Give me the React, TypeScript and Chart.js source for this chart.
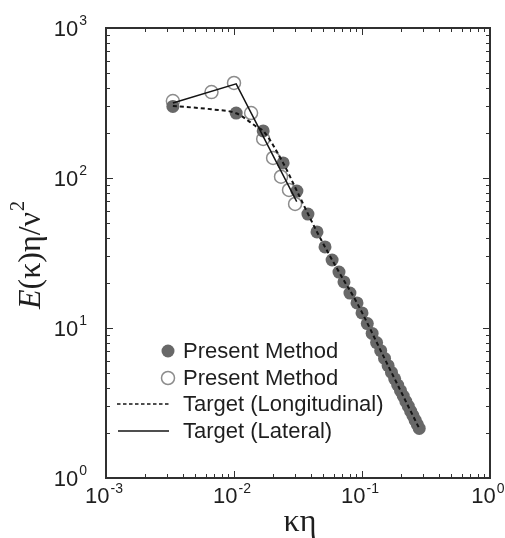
import React, { useEffect, useRef } from "react";
import { Chart, registerables } from "chart.js";

Chart.register(...registerables);

// Present Method (longitudinal, filled circles)
const filledK = [0.00333, 0.0104, 0.0169, 0.0242, 0.031, 0.0378, 0.0445, 0.0514, 0.0584, 0.0661, 0.0723, 0.0805, 0.0914,
  0.1, 0.11, 0.12, 0.13, 0.14, 0.15, 0.16, 0.17, 0.18, 0.19, 0.2, 0.21, 0.22, 0.23, 0.24, 0.25, 0.26, 0.27, 0.28];
const filledE = [300, 271, 206, 126, 81.9, 57.5, 43.7, 34.7, 28.4, 23.6, 20.3, 17.1, 14.7,
  12.6, 10.7, 9.2, 8.0, 7.06, 6.27, 5.61, 5.06, 4.58, 4.17, 3.82, 3.52, 3.24, 3.01, 2.79, 2.61, 2.43, 2.28, 2.14];

// Present Method (lateral, open circles)
const openK = [0.00333, 0.00667, 0.01, 0.0136, 0.0169, 0.0202, 0.0233, 0.0269, 0.03];
const openE = [326, 374, 430, 271, 182, 136, 102, 83.2, 67.1];

// Target (Longitudinal), dashed
const longK = [0.00333, 0.00667, 0.0104, 0.0151, 0.0169, 0.0242, 0.031, 0.0445, 0.0661, 0.0914, 0.15, 0.28];
const longE = [302, 287, 270, 219, 206, 126, 81.9, 43.7, 23.6, 14.7, 6.27, 2.14];

// Target (Lateral), solid
const latK = [0.00333, 0.0104, 0.0309];
const latE = [316, 424, 69.5];

const xDecades = [-3, -2, -1, 0];
const yDecades = [0, 1, 2, 3];
const legendLabels = ["Present Method", "Present Method", "Target (Longitudinal)", "Target (Lateral)"];

const FILL_COLOR = "#686868";
const OPEN_COLOR = "#8c8c8c";
const LINE_COLOR = "#141414";
const FRAME_COLOR = "#303030";
const TEXT_COLOR = "#1e1e1e";

const pts = (xs: number[], ys: number[]) => xs.map((x, i) => ({ x, y: ys[i] }));

const decorPlugin = {
  id: "decor",
  afterDraw(chart: any) {
    const { ctx, chartArea } = chart;
    const { left, right, top, bottom } = chartArea;
    const xs = chart.scales.x;
    const ys = chart.scales.y;
    ctx.save();
    // ticks (inward, all four sides)
    ctx.strokeStyle = FRAME_COLOR;
    ctx.lineWidth = 1;
    const major = 7;
    const minor = 4;
    for (let d = -3; d < 0; d++) {
      for (let m = 1; m <= 9; m++) {
        const v = m * Math.pow(10, d);
        const px = Math.round(xs.getPixelForValue(v)) + 0.5;
        const len = m === 1 ? major : minor;
        ctx.beginPath();
        ctx.moveTo(px, bottom);
        ctx.lineTo(px, bottom - len);
        ctx.moveTo(px, top);
        ctx.lineTo(px, top + len);
        ctx.stroke();
      }
    }
    for (let d = 0; d < 3; d++) {
      for (let m = 1; m <= 9; m++) {
        const v = m * Math.pow(10, d);
        const py = Math.round(ys.getPixelForValue(v)) + 0.5;
        const len = m === 1 ? major : minor;
        ctx.beginPath();
        ctx.moveTo(left, py);
        ctx.lineTo(left + len, py);
        ctx.moveTo(right, py);
        ctx.lineTo(right - len, py);
        ctx.stroke();
      }
    }
    // frame
    ctx.lineWidth = 2;
    ctx.strokeStyle = FRAME_COLOR;
    ctx.strokeRect(left, top, right - left, bottom - top);

    // tick labels
    ctx.fillStyle = TEXT_COLOR;
    ctx.textBaseline = "alphabetic";
    const baseFont = "22px 'Liberation Sans', Arial, sans-serif";
    const expFont = "14px 'Liberation Sans', Arial, sans-serif";
    yDecades.forEach((d) => {
      const py = ys.getPixelForValue(Math.pow(10, d));
      ctx.font = expFont;
      const ew = ctx.measureText(String(d)).width;
      ctx.font = baseFont;
      const bw = ctx.measureText("10").width;
      const rightEdge = 87;
      const bx = rightEdge - ew - 1 - bw;
      ctx.textAlign = "left";
      ctx.fillText("10", bx, py + 8);
      ctx.font = expFont;
      ctx.fillText(String(d), bx + bw + 1, py - 3);
    });
    xDecades.forEach((d) => {
      const px = xs.getPixelForValue(Math.pow(10, d));
      const es = String(d);
      ctx.font = expFont;
      const ew = ctx.measureText(es).width;
      ctx.font = baseFont;
      const bw = ctx.measureText("10").width;
      const total = bw + 1 + ew;
      const bx = px - 2 - total / 2;
      ctx.textAlign = "left";
      ctx.fillText("10", bx, 503);
      ctx.font = expFont;
      ctx.fillText(es, bx + bw + 1, 493);
    });

    // x title
    ctx.font = "32px 'Liberation Serif', 'Times New Roman', serif";
    ctx.textAlign = "center";
    ctx.fillText("κη", 300, 531);

    // y title (rotated)
    ctx.save();
    ctx.translate(40, 255);
    ctx.rotate(-Math.PI / 2);
    const italic = "italic 32px 'Liberation Serif', 'Times New Roman', serif";
    const normal = "32px 'Liberation Serif', 'Times New Roman', serif";
    const sup = "20px 'Liberation Serif', 'Times New Roman', serif";
    ctx.font = italic;
    const w1 = ctx.measureText("E").width;
    ctx.font = normal;
    const w2 = ctx.measureText("(κ)η/ν").width;
    ctx.font = sup;
    const w3 = ctx.measureText("2").width;
    let x0 = -(w1 + w2 + w3 + 1) / 2;
    ctx.textAlign = "left";
    ctx.font = italic;
    ctx.fillText("E", x0, 0);
    x0 += w1;
    ctx.font = normal;
    ctx.fillText("(κ)η/ν", x0, 0);
    x0 += w2 + 1;
    ctx.font = sup;
    ctx.fillText("2", x0, -16);
    ctx.restore();

    // legend
    const rows = [351, 378, 404, 431];
    const textX = 183;
    ctx.font = "22px 'Liberation Sans', Arial, sans-serif";
    ctx.textAlign = "left";
    ctx.textBaseline = "middle";
    // filled marker
    ctx.beginPath();
    ctx.arc(168, rows[0], 6.5, 0, Math.PI * 2);
    ctx.fillStyle = FILL_COLOR;
    ctx.fill();
    // open marker
    ctx.beginPath();
    ctx.arc(168, rows[1], 6.5, 0, Math.PI * 2);
    ctx.strokeStyle = OPEN_COLOR;
    ctx.lineWidth = 1.5;
    ctx.stroke();
    // dashed line
    ctx.strokeStyle = LINE_COLOR;
    ctx.lineWidth = 1.6;
    ctx.setLineDash([3.5, 2.5]);
    ctx.beginPath();
    ctx.moveTo(117, rows[2]);
    ctx.lineTo(171, rows[2]);
    ctx.stroke();
    ctx.setLineDash([]);
    ctx.lineWidth = 1.3;
    ctx.beginPath();
    ctx.moveTo(118, rows[3]);
    ctx.lineTo(169, rows[3]);
    ctx.stroke();
    ctx.fillStyle = TEXT_COLOR;
    legendLabels.forEach((t, i) => {
      ctx.fillText(t, textX, rows[i] + 1);
    });
    ctx.restore();
  },
};

export default function App() {
  const ref = useRef<HTMLCanvasElement | null>(null);
  useEffect(() => {
    if (!ref.current) return;
    const chart = new Chart(ref.current, {
      type: "scatter",
      data: {
        datasets: [
          {
            type: "line",
            label: "Target (Longitudinal)",
            data: pts(longK, longE),
            borderColor: LINE_COLOR,
            borderWidth: 2,
            borderDash: [4, 3],
            pointRadius: 0,
            cubicInterpolationMode: "monotone",
            fill: false,
            order: 0,
          },
          {
            type: "line",
            label: "Target (Lateral)",
            data: pts(latK, latE),
            borderColor: LINE_COLOR,
            borderWidth: 1.5,
            pointRadius: 0,
            tension: 0,
            fill: false,
            order: 1,
          },
          {
            label: "Present Method",
            data: pts(filledK, filledE),
            backgroundColor: FILL_COLOR,
            borderColor: FILL_COLOR,
            borderWidth: 0,
            pointRadius: 6.5,
            showLine: false,
            order: 2,
          },
          {
            label: "Present Method ",
            data: pts(openK, openE),
            backgroundColor: "rgba(255,255,255,0)",
            borderColor: OPEN_COLOR,
            borderWidth: 1.5,
            pointRadius: 6.5,
            showLine: false,
            order: 3,
          },
        ],
      } as any,
      options: {
        animation: false,
        responsive: true,
        maintainAspectRatio: false,
        layout: { padding: { left: 106, top: 28, right: 15, bottom: 60 } },
        plugins: { legend: { display: false }, tooltip: { enabled: false } },
        scales: {
          x: { type: "logarithmic", min: 0.001, max: 1, display: false },
          y: { type: "logarithmic", min: 1, max: 1000, display: false },
        },
      } as any,
      plugins: [decorPlugin],
    });
    return () => chart.destroy();
  }, []);
  return (
    <div style={{ position: "absolute", left: 0, top: 0, width: 505, height: 538, background: "#fff" }}>
      <canvas ref={ref} />
    </div>
  );
}
